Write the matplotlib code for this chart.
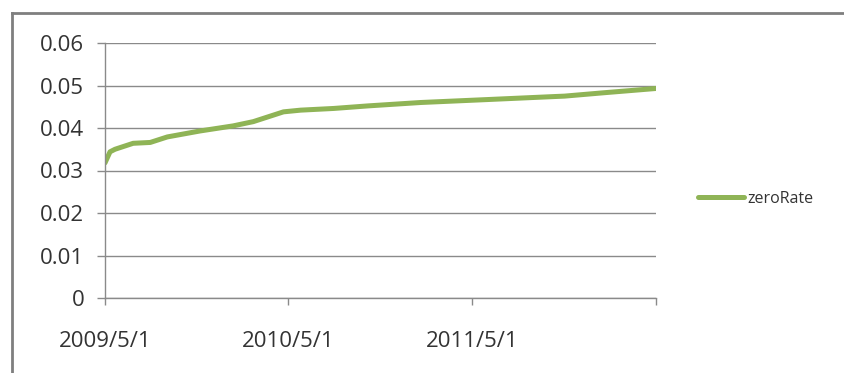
import numpy as np
import pandas as pd
import matplotlib

matplotlib.use("Agg")
import matplotlib.pyplot as plt
import matplotlib.dates as mdates
from matplotlib.lines import Line2D

# ── Data ─────────────────────────────────────────────────────────────────────
dates = pd.to_datetime([
    "2009-05-01", "2009-05-11", "2009-05-21", "2009-06-26", "2009-07-30",
    "2009-09-02", "2009-11-06", "2010-01-11", "2010-02-20", "2010-04-21",
    "2010-05-25", "2010-07-30", "2010-10-06", "2011-01-19", "2011-06-02",
    "2011-10-12", "2011-11-01", "2012-01-19", "2012-05-01",
])
zero_rate = [
    0.0318, 0.0344, 0.0350, 0.0364, 0.0366,
    0.0379, 0.0393, 0.0405, 0.0415, 0.0438,
    0.0442, 0.0446, 0.0452, 0.0460, 0.0467,
    0.0474, 0.0475, 0.0483, 0.0493,
]
x_ticks = pd.to_datetime(["2009-05-01", "2010-05-01", "2011-05-01", "2012-05-01"])
x_tick_labels = ["2009/5/1", "2010/5/1", "2011/5/1", ""]
y_ticks = [0, 0.01, 0.02, 0.03, 0.04, 0.05, 0.06]
y_tick_labels = ["0", "0.01", "0.02", "0.03", "0.04", "0.05", "0.06"]

# ── Style ────────────────────────────────────────────────────────────────────
plt.rcParams["font.family"] = ["Open Sans", "DejaVu Sans"]
GREEN = "#8fb456"
GRID = "#8a8a8a"
TEXT = "#333333"

fig = plt.figure(figsize=(8.44, 3.73), dpi=100)
ax = fig.add_axes([105 / 844, 1 - 298 / 373, (656 - 105) / 844, (298 - 43) / 373])

ax.plot(dates, zero_rate, color=GREEN, linewidth=3.6, solid_capstyle="round", label="zeroRate")

ax.set_xlim(x_ticks[0], x_ticks[-1])
ax.set_ylim(0, 0.06)
ax.set_xticks(x_ticks)
ax.set_xticklabels(x_tick_labels)
ax.set_yticks(y_ticks)
ax.set_yticklabels(y_tick_labels)

ax.yaxis.grid(True, color=GRID, linewidth=1.0)
ax.set_axisbelow(True)
for side in ["top", "right"]:
    ax.spines[side].set_visible(False)
for side in ["left", "bottom"]:
    ax.spines[side].set_color(GRID)
    ax.spines[side].set_linewidth(1.0)

ax.tick_params(axis="y", direction="out", length=6, width=1, color=GRID, pad=9,
               labelsize=16, labelcolor=TEXT)
ax.tick_params(axis="x", direction="out", length=5, width=1, color=GRID, pad=19,
               labelsize=16, labelcolor=TEXT)

fig.legend(loc="center left", bbox_to_anchor=(690 / 844, 1 - 199 / 373), frameon=False,
           fontsize=11.5, handlelength=2.9, handletextpad=0.2, borderpad=0,
           labelcolor=TEXT)

# outer chart-area border (top and left edges visible in the crop)
fig.add_artist(Line2D([12 / 844, 1], [1 - 13 / 373, 1 - 13 / 373], transform=fig.transFigure,
                      color="#7f7f7f", linewidth=2))
fig.add_artist(Line2D([12 / 844, 12 / 844], [0, 1 - 13 / 373], transform=fig.transFigure,
                      color="#7f7f7f", linewidth=2))

fig.savefig("out.png", dpi=100)
